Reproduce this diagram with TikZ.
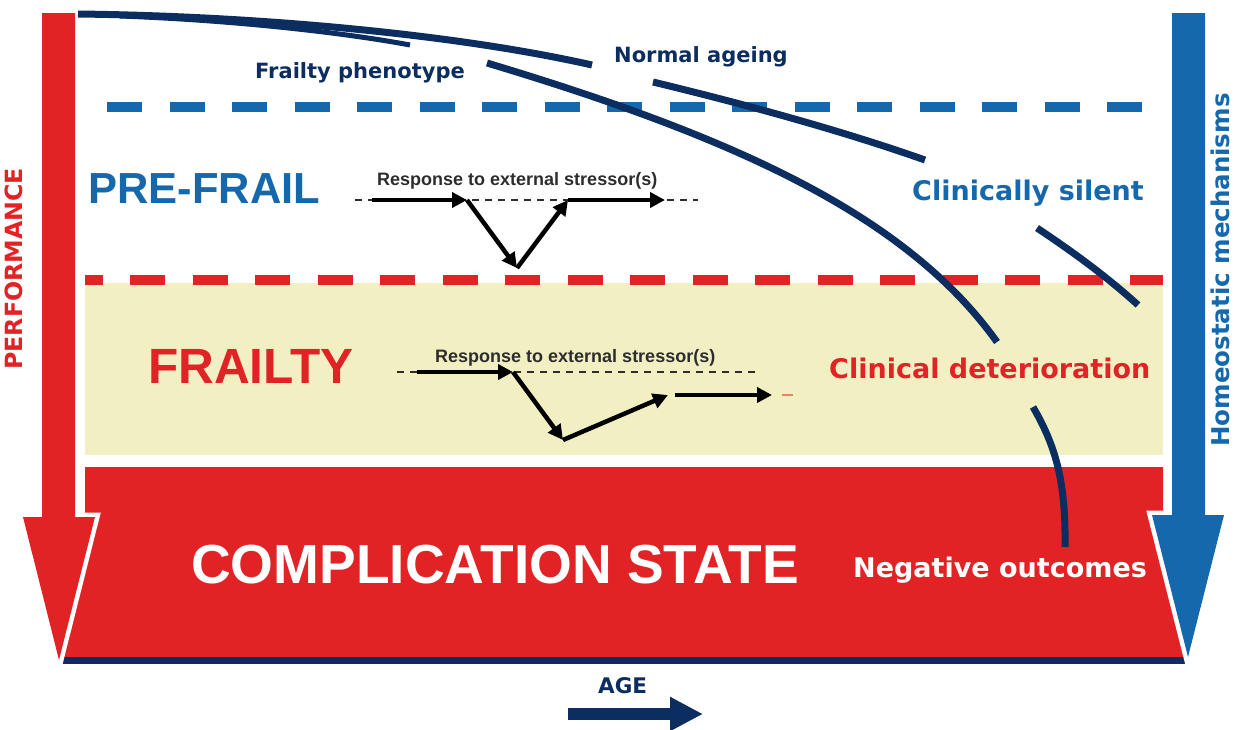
\documentclass[tikz,border=0pt]{standalone}
\usepackage{fontspec}
\setmainfont{Liberation Sans}
\newfontfamily\djv{DejaVu Sans}
\usetikzlibrary{arrows.meta}
\definecolor{fred}{RGB}{226,35,38}
\definecolor{fblue}{RGB}{22,104,172}
\definecolor{fnavy}{RGB}{12,45,95}
\definecolor{fyellow}{RGB}{242,239,195}
\definecolor{fgray}{RGB}{45,45,45}
\definecolor{forange}{RGB}{236,130,100}
\begin{document}
\begin{tikzpicture}[x=1pt,y=-1pt,
  lbl/.style={inner sep=0pt, anchor=base west},
  djvlab/.style={font=\djv\bfseries\fontsize{#1}{#1}\selectfont},
  biglab/.style={font=\bfseries\fontsize{#1}{#1}\selectfont},
  curve/.style={draw=fnavy, line width=7pt},
  thickdash/.style={line width=10pt, dash pattern=on 35pt off 27.5pt},
  respline/.style={draw=fgray, line width=1.8pt, dash pattern=on 7pt off 6pt},
  resparrow/.style={draw=black, line width=4.5pt, -{Triangle[length=15pt,width=15pt]}},
  respfont/.style={font=\bfseries\fontsize{18pt}{18pt}\selectfont, text=fgray}]
\useasboundingbox (0,0) rectangle (1243,729);
% bands
\fill[fyellow] (85,283) rectangle (1163,455);
\fill[fred] (85,467) -- (1163,467) -- (1163,560) -- (1186,660) -- (62,660) -- (85,560) -- cycle;
\fill[fnavy] (62,657) rectangle (1186,664);
% dashed thresholds
\coordinate (bdA) at (107,107); \coordinate (bdB) at (1142,107);
\draw[fblue, thickdash] (bdA) -- (bdB);
\coordinate (rdA) at (85,280); \coordinate (rdB) at (1163,280);
\draw[fred, thickdash, dash phase=17.5pt] (rdA) -- (rdB);
% vertical arrows
\path[fill=fred, preaction={draw=white, line width=9pt}]
  (42,13) -- (75,13) -- (75,517) -- (95,517) -- (59,660) -- (23,517) -- (42,517) -- cycle;
\path[fill=fblue, preaction={draw=white, line width=9pt}]
  (1172,13) -- (1205,13) -- (1205,515) -- (1224,515) -- (1188,657) -- (1152,515) -- (1172,515) -- cycle;
% curves: normal ageing
\coordinate (n0) at (78,14); \coordinate (n1) at (592,65);
\coordinate (n2) at (653,82); \coordinate (n3) at (925,160);
\coordinate (n4) at (1037,228); \coordinate (n5) at (1138,305);
\draw[curve] (n0) .. controls (250,16) and (450,33) .. (n1);
\draw[curve] (n2) .. controls (740,103) and (840,130) .. (n3);
\draw[curve] (n4) .. controls (1070,250) and (1105,275) .. (n5);
% curves: frailty phenotype
\coordinate (f0) at (120,16); \coordinate (f1) at (410,45);
\coordinate (f2) at (487,63);
\coordinate (f4) at (997,342); \coordinate (f5) at (1033,407); \coordinate (f6) at (1065,547);
\draw[fnavy, line width=5pt] (f0) .. controls (230,20) and (340,32) .. (f1);
\draw[curve] (f2) .. controls (737,138) and (907,216) .. (f4);
\draw[curve] (f5) .. controls (1055,445) and (1066,480) .. (f6);
% labels
\node[lbl, djvlab=21pt, text=fnavy] (normal) at (614,62) {Normal ageing};
\node[lbl, djvlab=21pt, text=fnavy] (phenotype) at (255,78) {Frailty phenotype};
\node[lbl, djvlab=27pt, text=fblue] (silent) at (912,200) {Clinically silent};
\node[lbl, djvlab=27pt, text=fred] (deter) at (829,378) {Clinical deterioration};
\node[lbl, djvlab=27pt, text=white] (negout) at (853,577) {Negative outcomes};
\node[lbl, biglab=43.5pt, text=fblue] (prefrail) at (88,203) {PRE-FRAIL};
\node[lbl, biglab=49.5pt, text=fred] (frailty) at (148,383) {FRAILTY};
\node[lbl, biglab=55pt, text=white] (compl) at (191,583) {COMPLICATION STATE};
\node[lbl, djvlab=23.7pt, text=fred, rotate=90] (perf) at (23,370) {PERFORMANCE};
\node[lbl, djvlab=24.5pt, text=fblue, rotate=90] (homeo) at (1229,447) {Homeostatic mechanisms};
\node[lbl, djvlab=21.5pt, text=fnavy] (age) at (598,693) {AGE};
% age arrow
\coordinate (ageS) at (568,714); \coordinate (ageE) at (703,714);
\draw[fnavy, line width=12pt, -{Triangle[length=33pt,width=32pt]}] (ageS) -- (ageE);
% response: pre-frail
\node[lbl, respfont] (resp1) at (377,185) {Response to external stressor(s)};
\coordinate (pa) at (355,200); \coordinate (pb) at (698,200);
\draw[respline] (pa) -- (pb);
\coordinate (p1) at (372,200); \coordinate (p2) at (467,200);
\coordinate (p3) at (517,268); \coordinate (p4) at (568,200); \coordinate (p5) at (665,200);
\draw[resparrow] (p1) -- (p2);
\draw[resparrow] (p2) -- (p3);
\draw[resparrow] (p3) -- (p4);
\draw[resparrow] (p4) -- (p5);
% response: frailty
\node[lbl, respfont] (resp2) at (435,362) {Response to external stressor(s)};
\coordinate (qa) at (397,372); \coordinate (qb) at (760,372);
\draw[respline] (qa) -- (qb);
\coordinate (q1) at (417,372); \coordinate (q2) at (513,372);
\coordinate (q3) at (563,440); \coordinate (q4) at (668,395);
\coordinate (q5) at (675,395); \coordinate (q6) at (772,395);
\coordinate (qo1) at (782,395); \coordinate (qo2) at (793,395);
\draw[resparrow] (q1) -- (q2);
\draw[resparrow] (q2) -- (q3);
\draw[resparrow] (q3) -- (q4);
\draw[resparrow] (q5) -- (q6);
\draw[forange, line width=2pt] (qo1) -- (qo2);
\end{tikzpicture}
\end{document}
